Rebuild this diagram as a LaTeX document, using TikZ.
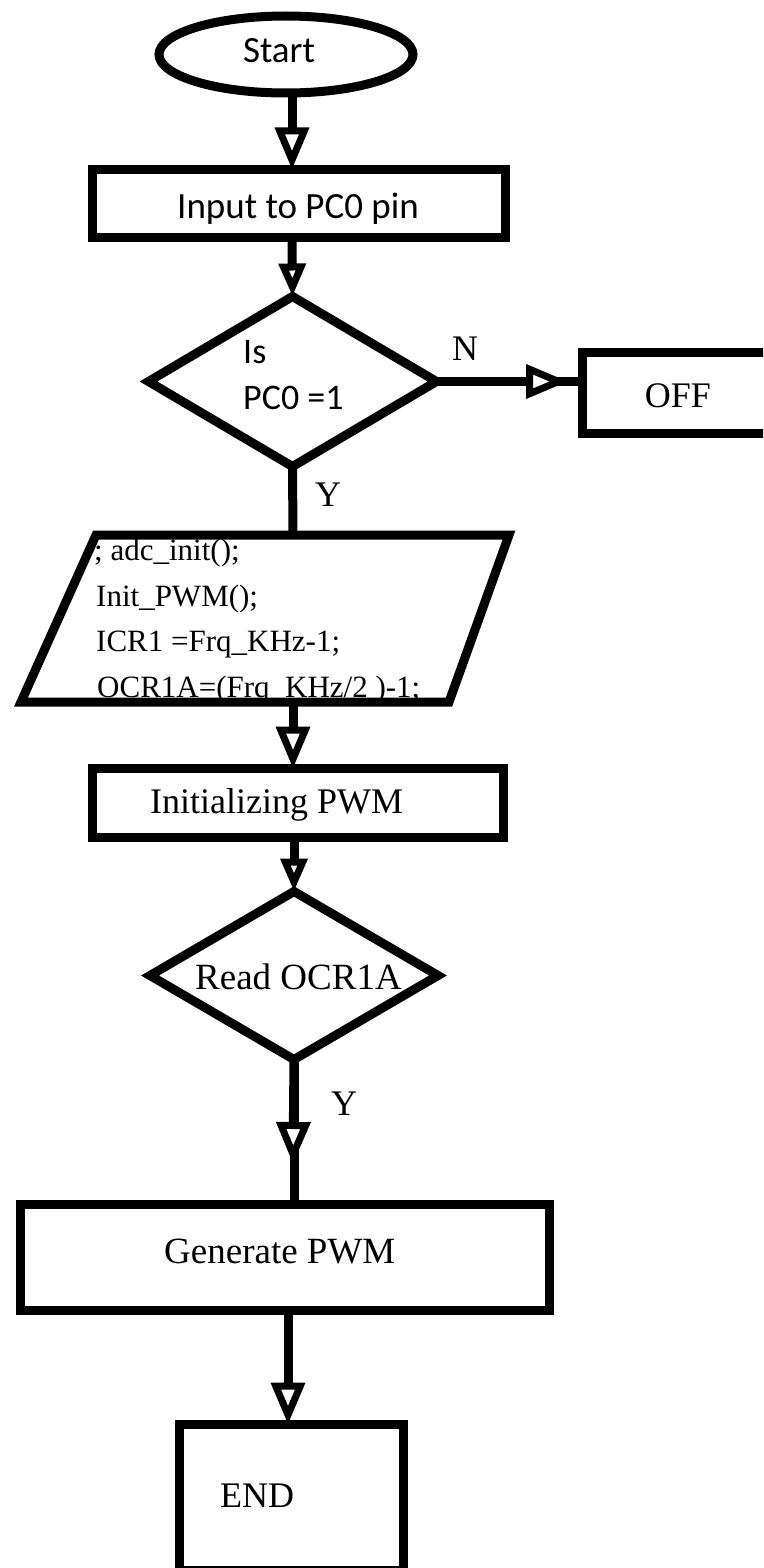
\documentclass[tikz,border=0pt]{standalone}
\usepackage{fontspec}
\setmainfont{Liberation Serif}
\newfontfamily\carlito{Carlito}
\usetikzlibrary{shapes.geometric,arrows.meta,calc}
\begin{document}
\begin{tikzpicture}[x=1pt,y=-1pt,
  shapeline/.style={draw=black,line width=9pt,inner sep=0pt,outer sep=0pt},
  boxshape/.style={shapeline,rectangle},
  conn/.style={draw=black,line width=9pt},
  bigtip/.style={conn,-{Triangle[length=42pt,width=33pt,line width=7pt,fill=white]}},
  smalltip/.style={conn,-{Triangle[length=33pt,width=26pt,line width=7pt,fill=white]}},
  cal/.style={font=\carlito\fontsize{37}{40}\selectfont,inner sep=0pt},
  calsmall/.style={font=\carlito\fontsize{36}{40}\selectfont,inner sep=0pt},
  ser/.style={font=\fontsize{36}{40}\selectfont,inner sep=0pt},
  sersmall/.style={font=\fontsize{31}{36}\selectfont,inner sep=0pt}
]
\useasboundingbox (0,0) rectangle (763,1568);
\clip (0,0) rectangle (763,1568);

% shapes
\node[shapeline,ellipse,minimum width=254pt,minimum height=77pt] (start) at (286,54.5) {};
\node[boxshape,minimum width=413pt,minimum height=68pt] (in) at (299,203.5) {};
\node[shapeline,diamond,minimum width=288pt,minimum height=170pt] (d1) at (292.5,381.5) {};
\node[boxshape,minimum width=230pt,minimum height=81pt] (off) at (697.5,393) {};
\coordinate (p1) at (96,535);
\coordinate (p2) at (509,535);
\coordinate (p3) at (449,702);
\coordinate (p4) at (21,702);
\draw[shapeline,line join=miter] (p1) -- (p2) -- (p3) -- (p4) -- cycle;
\coordinate (ptop) at (293,535);
\coordinate (pbot) at (293,702);
\node[boxshape,minimum width=411pt,minimum height=69pt] (init) at (298,803) {};
\node[shapeline,diamond,minimum width=288pt,minimum height=168pt] (d2) at (294,975.5) {};
\node[boxshape,minimum width=529pt,minimum height=106pt] (gen) at (285,1257.5) {};
\node[boxshape,minimum width=224pt,minimum height=146pt] (end) at (291.5,1497.5) {};

% columns
\coordinate (col) at (292,0);
\coordinate (colb) at (288,0);
\coordinate (mid) at (293,1164);
\coordinate (offtip) at (568,0);

% connectors
\draw[bigtip] (start.south -| col) -- (in.north -| col);
\draw[smalltip] (in.south -| col) -- (d1.north);
\draw[conn] (d1.east) -- (d1.east -| off.west);
\draw[bigtip] (d1.east) -- (offtip |- d1.east);
\draw[conn] (d1.south) -- (ptop);
\draw[bigtip] (pbot) -- (init.north -| pbot);
\draw[smalltip] (init.south -| d2.north) -- (d2.north);
\draw[conn] (d2.south) -- (gen.north -| d2.south);
\draw[bigtip] (d2.south) -- (mid);
\draw[bigtip] (gen.south -| colb) -- (end.north -| colb);

% texts
\node[cal,anchor=base] (tstart) at (279,63) {Start};
\node[cal,anchor=base west] (tin) at (177,218) {Input to PC0 pin};
\node[calsmall,anchor=base west] (tis) at (243,363) {Is};
\node[calsmall,anchor=base west] (tpc) at (243,409) {PC0 =1};
\node[ser,anchor=base] (tn) at (465,360) {N};
\node[ser,anchor=base] (toff) at (678,407) {OFF};
\node[ser,anchor=base] (ty1) at (328,506) {Y};
\node[sersmall,anchor=base west] (tl1) at (94,560) {; adc\_init();};
\node[sersmall,anchor=base west] (tl2) at (96,606) {Init\_PWM();};
\node[sersmall,anchor=base west] (tl3) at (96,651) {ICR1 =Frq\_KHz-1;};
\node[sersmall,anchor=base west] (tl4) at (97,697) {OCR1A=(Frq\_KHz/2 )-1;};
\node[ser,anchor=base west] (tinit) at (150,813) {Initializing PWM};
\node[font=\fontsize{37}{40}\selectfont,inner sep=0pt,anchor=base west] (tread) at (195,989) {Read OCR1A};
\node[ser,anchor=base] (ty2) at (344,1115) {Y};
\node[font=\fontsize{37}{40}\selectfont,inner sep=0pt,anchor=base west] (tgen) at (164,1263) {Generate PWM};
\node[ser,anchor=base west] (tend) at (220,1507) {END};
\end{tikzpicture}
\end{document}
